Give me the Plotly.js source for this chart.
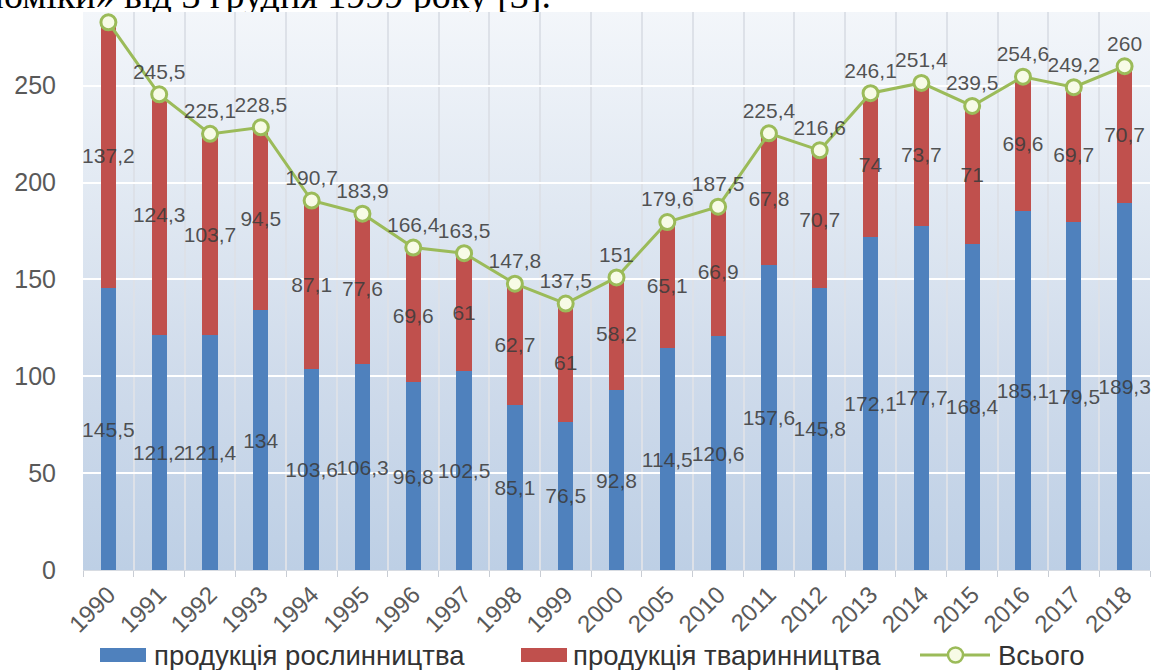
<!DOCTYPE html>
<html>
<head>
<meta charset="utf-8">
<script src="https://cdn.plot.ly/plotly-3.0.1.min.js"></script>
<style>
  html, body { margin: 0; padding: 0; background: #ffffff; }
  #wrap { position: relative; width: 1155px; height: 670px; overflow: hidden; background: #fff; }
  #bg { position: absolute; left: 83px; top: 12px; width: 1067px; height: 558px;
        background: linear-gradient(to bottom, #f3f6fa 0%, #e0e8f2 35%, #cfdbeb 65%, #bdcfe5 100%); z-index: 0; }
  #chart { position: absolute; left: 0; top: 0; width: 1155px; height: 670px; z-index: 1; }
  #toptext { position: absolute; left: 0; top: 0; z-index: 2; }
</style>
</head>
<body>
<div id="wrap">
  <div id="bg"></div>
  <div id="chart"></div>
  <svg id="toptext" width="600" height="12" xmlns="http://www.w3.org/2000/svg">
    <rect x="0" y="0" width="600" height="12" fill="#ffffff"/>
    <text x="551" y="8" text-anchor="end" font-family="Liberation Serif, Times New Roman, serif" font-size="38" fill="#000">номіки» від 3 грудня 1999 року [3].</text>
  </svg>
</div>
<script>
// ---- data ----
const years = ['1990','1991','1992','1993','1994','1995','1996','1997','1998','1999','2000','2005','2010','2011','2012','2013','2014','2015','2016','2017','2018'];
const cropProduction = [145.5,121.2,121.4,134,103.6,106.3,96.8,102.5,85.1,76.5,92.8,114.5,120.6,157.6,145.8,172.1,177.7,168.4,185.1,179.5,189.3];
const livestockProduction = [137.2,124.3,103.7,94.5,87.1,77.6,69.6,61,62.7,61,58.2,65.1,66.9,67.8,70.7,74,73.7,71,69.6,69.7,70.7];
const totalProduction = [282.7,245.5,225.1,228.5,190.7,183.9,166.4,163.5,147.8,137.5,151,179.6,187.5,225.4,216.6,246.1,251.4,239.5,254.6,249.2,260];
// label of the first total is hidden under the page text in the reference
const totalLabelShown = [false,true,true,true,true,true,true,true,true,true,true,true,true,true,true,true,true,true,true,true,true];
const seriesNames = ['продукція рослинництва', 'продукція тваринництва', 'Всього'];
const yTicks = [0, 50, 100, 150, 200, 250];

const fmt = v => String(v).replace('.', ',');

// ---- styling ----
const FONT = 'Liberation Sans, Arial, sans-serif';
const BLUE = '#4f81bd', RED = '#c0504d', GREEN = '#9bbb59';
const LABEL_COLOR = 'rgba(60,60,60,0.88)';
const PL = 83, PT = 12, PW = 1067, PH = 558;
const px = x => (x - PL) / PW;
const py = y => (PT + PH - y) / PH;

const traces = [
  {
    type: 'bar', name: seriesNames[0], x: years, y: cropProduction,
    marker: { color: BLUE },
    text: cropProduction.map(fmt), textposition: 'inside', insidetextanchor: 'middle',
    textangle: 0, constraintext: 'none',
    textfont: { family: FONT, size: 21, color: LABEL_COLOR },
    cliponaxis: false, hoverinfo: 'x+y'
  },
  {
    type: 'bar', name: seriesNames[1], x: years, y: livestockProduction,
    marker: { color: RED },
    text: livestockProduction.map(fmt), textposition: 'inside', insidetextanchor: 'middle',
    textangle: 0, constraintext: 'none',
    textfont: { family: FONT, size: 21, color: LABEL_COLOR },
    cliponaxis: false, hoverinfo: 'x+y'
  },
  {
    type: 'scatter', mode: 'lines+markers+text', name: seriesNames[2], x: years, y: totalProduction,
    line: { color: GREEN, width: 3 },
    marker: { symbol: 'circle', size: 15, color: '#f7fbe6', line: { color: GREEN, width: 3 } },
    text: totalProduction.map((v, i) => totalLabelShown[i] ? fmt(v) : ''), textposition: 'top center',
    textfont: { family: FONT, size: 21, color: LABEL_COLOR },
    cliponaxis: false
  }
];

const shapes = [
  { type: 'rect', xref: 'paper', yref: 'paper', x0: px(100), x1: px(146), y0: py(662), y1: py(648), fillcolor: BLUE, line: { width: 0 } },
  { type: 'rect', xref: 'paper', yref: 'paper', x0: px(521), x1: px(567), y0: py(662), y1: py(648), fillcolor: RED, line: { width: 0 } },
  { type: 'line', xref: 'paper', yref: 'paper', x0: px(920), x1: px(990), y0: py(655), y1: py(655), line: { color: GREEN, width: 3 } },
  { type: 'circle', xref: 'paper', yref: 'paper', x0: px(948), x1: px(963), y0: py(662.5), y1: py(647.5), fillcolor: '#f7fbe6', line: { color: GREEN, width: 2.5 } }
];

const legendAnn = (x, text) => ({
  xref: 'paper', yref: 'paper', x: px(x), y: py(655), xanchor: 'left', yanchor: 'middle',
  text: text, showarrow: false, font: { family: FONT, size: 27.5, color: '#333333' }
});

const layout = {
  width: 1155, height: 670,
  margin: { l: PL, r: 1155 - PL - PW, t: PT, b: 670 - PT - PH, pad: 0 },
  paper_bgcolor: 'rgba(0,0,0,0)', plot_bgcolor: 'rgba(0,0,0,0)',
  barmode: 'stack', bargap: 0.7,
  showlegend: false,
  font: { family: FONT, color: '#595959' },
  xaxis: {
    type: 'category', range: [-0.5, years.length - 0.5], autorange: false,
    tickson: 'boundaries', tickangle: -45,
    tickfont: { family: FONT, size: 24, color: '#595959' },
    showgrid: true, gridcolor: '#dde1e8', gridwidth: 2,
    ticks: 'outside', ticklen: 6, tickcolor: '#c9cdd4', tickwidth: 1,
    showline: true, linecolor: '#d8dce2', linewidth: 1,
    fixedrange: true
  },
  yaxis: {
    range: [0, 288], autorange: false, tickvals: yTicks, ticktext: yTicks.map(String),
    tickfont: { family: FONT, size: 25, color: '#595959' },
    showgrid: true, gridcolor: '#ffffff', gridwidth: 2,
    zeroline: false, showline: false, ticks: '',
    ticklabelstandoff: 26, fixedrange: true
  },
  shapes: shapes,
  annotations: [legendAnn(152, seriesNames[0]), legendAnn(571, seriesNames[1]), legendAnn(996, seriesNames[2])]
};

Plotly.newPlot('chart', traces, layout, { displayModeBar: false, staticPlot: true });
</script>
</body>
</html>
